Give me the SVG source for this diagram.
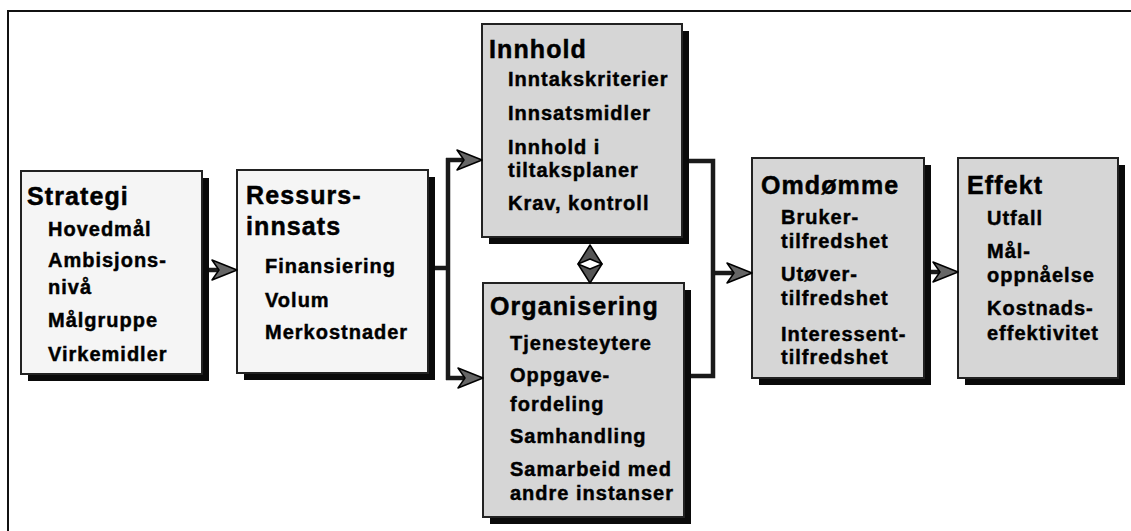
<svg xmlns="http://www.w3.org/2000/svg" width="1131" height="531" viewBox="0 0 1131 531">
<style>
.frame{fill:none;stroke:#111;stroke-width:2}
.shadow{fill:#0a0a0a}
.box{stroke:#222;stroke-width:2}
.light{fill:#f5f5f5}
.grey{fill:#d6d6d6}
.title{font-family:"Liberation Sans",Arial,sans-serif;font-weight:bold;font-size:25px;letter-spacing:1.1px;fill:#000;stroke:#000;stroke-width:0.5}
.item{font-family:"Liberation Sans",Arial,sans-serif;font-weight:bold;font-size:20px;letter-spacing:1px;fill:#000;stroke:#000;stroke-width:0.45}
.conn{fill:none;stroke:#1a1a1a;stroke-width:4.5}
.dbl{fill:#555;stroke:#000;stroke-width:1.5;stroke-linejoin:round}
</style>
<defs>
<marker id="arr" markerUnits="userSpaceOnUse" markerWidth="28" markerHeight="24" viewBox="0 0 28 24" refX="18" refY="12" orient="auto">
<path d="M1,2 L26,12 L1,22 L8,12 Z" fill="#666" stroke="#000" stroke-width="1.5" stroke-linejoin="round"/>
</marker>
</defs>
<rect width="1131" height="531" fill="#fff"/>
<path class="frame" d="M8,531 V11 H1131"/>

<g id="strategi">
<rect class="shadow" x="28" y="178" width="181" height="203"/>
<rect class="box light" x="21" y="171" width="181" height="203"/>
<text class="title" x="27" y="205">Strategi</text>
<text class="item" x="48" y="236">Hovedmål</text>
<text class="item" x="48" y="267">Ambisjons-</text>
<text class="item" x="48" y="294">nivå</text>
<text class="item" x="48" y="327">Målgruppe</text>
<text class="item" x="48" y="361">Virkemidler</text>
</g>

<g id="ressursinnsats">
<rect class="shadow" x="244" y="177" width="191" height="203"/>
<rect class="box light" x="237" y="170" width="191" height="203"/>
<text class="title" x="246" y="204">Ressurs-</text>
<text class="title" x="246" y="235">innsats</text>
<text class="item" x="265" y="273">Finansiering</text>
<text class="item" x="265" y="307">Volum</text>
<text class="item" x="265" y="339">Merkostnader</text>
</g>

<g id="innhold">
<rect class="shadow" x="489" y="31" width="200" height="213"/>
<rect class="box grey" x="482" y="24" width="200" height="213"/>
<text class="title" x="489" y="58">Innhold</text>
<text class="item" x="508" y="86">Inntakskriterier</text>
<text class="item" x="508" y="120">Innsatsmidler</text>
<text class="item" x="508" y="154">Innhold i</text>
<text class="item" x="508" y="177">tiltaksplaner</text>
<text class="item" x="508" y="210">Krav, kontroll</text>
</g>

<g id="organisering">
<rect class="shadow" x="490" y="290" width="201" height="234"/>
<rect class="box grey" x="483" y="283" width="201" height="234"/>
<text class="title" x="490" y="315">Organisering</text>
<text class="item" x="510" y="350">Tjenesteytere</text>
<text class="item" x="510" y="382">Oppgave-</text>
<text class="item" x="510" y="411">fordeling</text>
<text class="item" x="510" y="443">Samhandling</text>
<text class="item" x="510" y="476">Samarbeid med</text>
<text class="item" x="510" y="500">andre instanser</text>
</g>

<g id="omdomme">
<rect class="shadow" x="759" y="165" width="172" height="220"/>
<rect class="box grey" x="752" y="158" width="172" height="220"/>
<text class="title" x="761" y="194">Omdømme</text>
<text class="item" x="781" y="224">Bruker-</text>
<text class="item" x="781" y="248">tilfredshet</text>
<text class="item" x="781" y="281">Utøver-</text>
<text class="item" x="781" y="305">tilfredshet</text>
<text class="item" x="781" y="341">Interessent-</text>
<text class="item" x="781" y="364">tilfredshet</text>
</g>

<g id="effekt">
<rect class="shadow" x="965" y="165" width="160" height="220"/>
<rect class="box grey" x="958" y="158" width="160" height="220"/>
<text class="title" x="967" y="194">Effekt</text>
<text class="item" x="987" y="225">Utfall</text>
<text class="item" x="987" y="258">Mål-</text>
<text class="item" x="987" y="282">oppnåelse</text>
<text class="item" x="987" y="315">Kostnads-</text>
<text class="item" x="987" y="340">effektivitet</text>
</g>

<g id="connectors">
<path class="conn" d="M209,270 H229" marker-end="url(#arr)"/>
<path class="conn" d="M435,268 H448"/>
<path class="conn" d="M448,158 V380"/>
<path class="conn" d="M446,160 H474" marker-end="url(#arr)"/>
<path class="conn" d="M446,378 H475" marker-end="url(#arr)"/>
<path class="conn" d="M689,161 H713 V376 H691"/>
<path class="conn" d="M713,273 H744" marker-end="url(#arr)"/>
<path class="conn" d="M931,272 H950" marker-end="url(#arr)"/>
<path class="dbl" d="M590,245 L602,264 L590,259 L578,264 Z"/>
<path class="dbl" d="M590,283 L602,264 L590,269 L578,264 Z"/>
</g>
</svg>
